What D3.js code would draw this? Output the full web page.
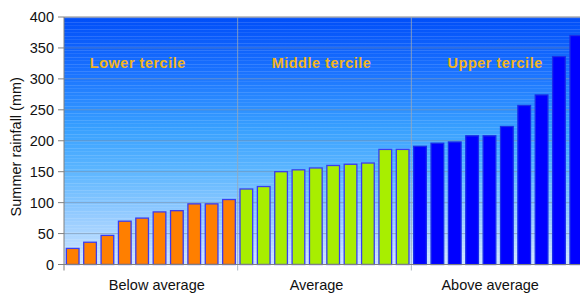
<!DOCTYPE html>
<html><head><meta charset="utf-8">
<script src="https://cdn.jsdelivr.net/npm/d3@7"></script>
<style>html,body{margin:0;padding:0;background:#fff;}svg{display:block;}</style>
</head><body>
<svg id="c" width="580" height="293"></svg>
<script>
const groups = ["Below average", "Average", "Above average"];
const terciles = ["Lower tercile", "Middle tercile", "Upper tercile"];
const lowerValues = [26, 36, 47, 70, 75, 85, 87, 98, 98, 105];
const middleValues = [122, 126, 150, 153, 156, 160, 162, 164, 186, 186];
const upperValues = [191, 196, 198, 208, 208, 223, 257, 274, 336, 370];
const yTicks = [0, 50, 100, 150, 200, 250, 300, 350, 400];
const groupFills = ["#ff7f00", "#a8ee00", "#0000ff"];

const svg = d3.select("#c");
const font = "'Liberation Sans', Arial, sans-serif";
const L = 64, R = 585, T = 17, B = 264.5;

const all = [];
[lowerValues, middleValues, upperValues].forEach((arr, g) =>
  arr.forEach((v, i) => all.push({g, i, id: g * 10 + i, v})));

const x = d3.scaleBand().domain(all.map(d => d.id)).range([L, R])
  .paddingInner(0.27).paddingOuter(0.135);
const xg = d3.scaleBand().domain(groups).range([L, R]);
const y = d3.scaleLinear().domain([0, 400]).range([B, T]);

const defs = svg.append("defs");
const grad = defs.append("linearGradient").attr("id", "bg")
  .attr("x1", 0).attr("y1", 0).attr("x2", 0).attr("y2", 1);
[[0, "#004ef8"], [0.22, "#1a72ff"], [0.45, "#38a0ff"], [0.62, "#5cb6ff"], [0.8, "#94cbff"], [1, "#cfe5ff"]]
  .forEach(([o, c]) => grad.append("stop").attr("offset", o).attr("stop-color", c));
const pat = defs.append("pattern").attr("id", "stripes").attr("patternUnits", "userSpaceOnUse")
  .attr("width", 10).attr("height", 7);
pat.append("rect").attr("x", 0).attr("y", 1).attr("width", 10).attr("height", 1).attr("fill", "#fff").attr("opacity", 0.13);
pat.append("rect").attr("x", 0).attr("y", 4).attr("width", 10).attr("height", 1).attr("fill", "#fff").attr("opacity", 0.08);

svg.append("rect").attr("x", L).attr("y", T).attr("width", R - L).attr("height", B - T).attr("fill", "url(#bg)");
svg.append("rect").attr("x", L).attr("y", T).attr("width", R - L).attr("height", B - T).attr("fill", "url(#stripes)");

// gridlines
svg.append("g").selectAll("line").data(yTicks.filter(t => t > 0 && t < 400)).join("line")
  .attr("x1", L).attr("x2", R).attr("y1", d => y(d)).attr("y2", d => y(d))
  .attr("stroke", "#7a8aa0").attr("stroke-opacity", 0.55).attr("stroke-width", 1);
svg.append("line").attr("x1", L).attr("x2", R).attr("y1", T).attr("y2", T)
  .attr("stroke", "#b0b0b0").attr("stroke-width", 1.5);

// group dividers
svg.append("g").selectAll("line").data(groups.slice(1)).join("line")
  .attr("x1", d => xg(d)).attr("x2", d => xg(d)).attr("y1", T).attr("y2", B + 6)
  .attr("stroke", "#9aa8b8").attr("stroke-opacity", 0.8).attr("stroke-width", 1);

// bars
svg.append("g").selectAll("rect").data(all).join("rect")
  .attr("x", d => x(d.id)).attr("width", x.bandwidth())
  .attr("y", d => y(d.v)).attr("height", d => y(0) - y(d.v))
  .attr("fill", d => groupFills[d.g])
  .attr("stroke", d => d.g === 2 ? "#1a2ee8" : "#3a3cf0").attr("stroke-width", 1.3);

// tercile labels
const labOff = [-13, -3, -3];
svg.append("g").selectAll("text").data(terciles).join("text")
  .attr("x", (d, i) => xg(groups[i]) + xg.bandwidth() / 2 + labOff[i])
  .attr("y", 68).attr("text-anchor", "middle")
  .attr("font-family", font).attr("font-weight", "bold").attr("font-size", 14.5)
  .attr("letter-spacing", 0.5).attr("fill", "#f2b41e").text(d => d);

// axes lines
svg.append("line").attr("x1", L).attr("x2", L).attr("y1", T).attr("y2", B + 6)
  .attr("stroke", "#808080").attr("stroke-width", 1);
svg.append("line").attr("x1", L).attr("x2", R).attr("y1", B).attr("y2", B)
  .attr("stroke", "#808080").attr("stroke-width", 1.2);

// y ticks
const yt = svg.append("g");
yt.selectAll("line").data(yTicks).join("line")
  .attr("x1", L - 6).attr("x2", L).attr("y1", d => y(d)).attr("y2", d => y(d))
  .attr("stroke", "#808080");
yt.selectAll("text").data(yTicks).join("text")
  .attr("x", L - 10).attr("y", d => y(d) + 5).attr("text-anchor", "end")
  .attr("font-family", font).attr("font-size", 14.5).attr("fill", "#111").text(d => d);

// category labels
svg.append("g").selectAll("text").data(groups).join("text")
  .attr("x", d => xg(d) + xg.bandwidth() / 2 + (d === "Above average" ? -8 : (d === "Average" ? -8 : 6)))
  .attr("y", 290).attr("text-anchor", "middle")
  .attr("font-family", font).attr("font-size", 14.5).attr("fill", "#111").text(d => d);

// y title
svg.append("text").attr("transform", `translate(21,${(T + B) / 2 + 6}) rotate(-90)`)
  .attr("text-anchor", "middle").attr("font-family", font).attr("font-size", 14.5)
  .attr("fill", "#111").text("Summer rainfall (mm)");
</script>
</body></html>
